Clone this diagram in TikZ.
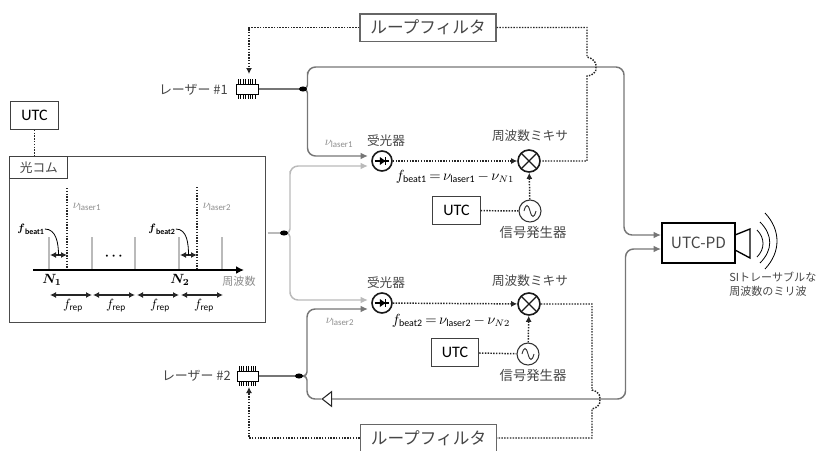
\documentclass[tikz,border=0pt]{standalone}
\usepackage{amsmath,amssymb}
\usepackage{fontspec}
\setmainfont{Carlito}
\newfontfamily\jp{Noto Sans CJK JP}
\usetikzlibrary{arrows.meta,calc,positioning,shapes.geometric}
\definecolor{txtgray}{RGB}{70,70,70}
\definecolor{fibergray}{RGB}{118,118,118}
\definecolor{combgray}{RGB}{186,186,186}
\definecolor{nugray}{RGB}{140,140,140}
\tikzset{
  plainbox/.style={draw=black!75,line width=.8pt,fill=white,inner sep=0pt},
  utcbox/.style={plainbox,minimum width=35.5pt,minimum height=20.5pt,font=\fontsize{12}{12}\selectfont},
  filterbox/.style={plainbox,draw=black!60,line width=1pt,minimum width=102pt,minimum height=20.5pt,font=\jp\fontsize{12.5}{12}\selectfont,text=txtgray},
  jplabel/.style={font=\jp\fontsize{9.5}{11}\selectfont,text=txtgray,inner sep=0pt},
  smalljp/.style={font=\jp\fontsize{8.3}{10.5}\selectfont,text=txtgray,inner sep=0pt,align=left},
  chipbox/.style={draw=black,line width=.7pt,fill=white,minimum width=16pt,minimum height=7.5pt,inner sep=0pt},
  detector/.style={circle,draw=black!90,line width=1.2pt,fill=white,minimum size=15pt,inner sep=0pt,
    path picture={
      \draw[black,line width=1pt] ($(path picture bounding box.center)+(-5.5pt,0)$) -- ($(path picture bounding box.center)+(5.5pt,0)$);
      \fill[black] ($(path picture bounding box.center)+(-1.6pt,3pt)$) -- ($(path picture bounding box.center)+(2.6pt,0)$) -- ($(path picture bounding box.center)+(-1.6pt,-3pt)$) -- cycle;
      \draw[black,line width=1pt] ($(path picture bounding box.center)+(2.8pt,3pt)$) -- ($(path picture bounding box.center)+(2.8pt,-3pt)$);
    }},
  mixer/.style={circle,draw=black!90,line width=1.2pt,fill=white,minimum size=16.5pt,inner sep=0pt,
    path picture={
      \draw[line width=1pt] (path picture bounding box.north west) -- (path picture bounding box.south east);
      \draw[line width=1pt] (path picture bounding box.north east) -- (path picture bounding box.south west);
    }},
  siggen/.style={circle,draw=black!80,line width=.8pt,fill=white,minimum size=16.5pt,inner sep=0pt,
    path picture={
      \draw[line width=.7pt] ($(path picture bounding box.center)+(-4.5pt,0)$) .. controls +(1.5pt,5.5pt) and +(-1.5pt,5.5pt) .. (path picture bounding box.center) .. controls +(1.5pt,-5.5pt) and +(-1.5pt,-5.5pt) .. ($(path picture bounding box.center)+(4.5pt,0)$);
    }},
  fiber/.style={draw=fibergray,line width=1.1pt},
  combfiber/.style={draw=combgray,line width=1.1pt},
  splitdot/.style={ellipse,fill=black,minimum width=6pt,minimum height=3.8pt,inner sep=0pt},
  elec/.style={draw=black!85,line width=1.1pt,densely dotted},
  fibertip/.style={-{Latex[length=5.5pt,width=5pt]}},
  dottip/.style={-{Latex[length=4.5pt,width=4.5pt]}},
  spacing/.style={{Latex[length=4.5pt,width=4.5pt]}-{Latex[length=4.5pt,width=4.5pt]},line width=.9pt,black!85},
  combline/.style={draw=combgray,line width=1.7pt},
}
\begin{document}
\begin{tikzpicture}[x=.75pt,y=-.75pt,>=Latex]
  \useasboundingbox (0,0) rectangle (817,450);

  % comb
  \node[utcbox] (utc0) at (34.5,115.5) {UTC};
  \node[draw=black!70,line width=.8pt,minimum width=191.5pt,minimum height=125pt,inner sep=0pt] (comb) at (137.5,239.5) {};
  \node[plainbox,minimum width=43.5pt,minimum height=17pt,anchor=north west,font=\jp\fontsize{9.5}{11}\selectfont,text=txtgray] (combname) at (comb.north west) {光コム};
  \draw[elec] (utc0) -- (utc0|-combname.north);

  \foreach \x in {49,92,135,179,222}
    \draw[combline] (\x,237) -- (\x,270);
  \draw[elec] (67,188) -- (67,270);
  \draw[elec] (197,187) -- (197,270);
  \coordinate (axisstart) at (33,270);
  \coordinate (axisend) at (244,270);
  \draw[line width=1.6pt,-{Latex[length=6pt,width=6pt]}] (axisstart) -- (axisend);

  \node[text=nugray,font=\fontsize{9.5}{11}\selectfont] (nuone) at (87,207) {$\nu_{\text{laser1}}$};
  \node[text=nugray,font=\fontsize{9.5}{11}\selectfont] (nutwo) at (217,207) {$\nu_{\text{laser2}}$};
  \node[font=\fontsize{8.5}{10}\selectfont,inner sep=0pt] (beatone) at (31,229) {$\boldsymbol{f}_{\textbf{beat1}}$};
  \node[font=\fontsize{8.5}{10}\selectfont,inner sep=0pt] (beattwo) at (162,229) {$\boldsymbol{f}_{\textbf{beat2}}$};
  \coordinate (gapa) at (50,255);
  \coordinate (gapb) at (67,255);
  \coordinate (gapc) at (180,255);
  \coordinate (gapd) at (197,255);
  \draw[spacing] (gapa) -- (gapb);
  \draw[spacing] (gapc) -- (gapd);
  \draw[line width=.6pt] (beatone.east) to[out=0,in=90] ($(gapa)!.5!(gapb)$);
  \draw[line width=.6pt] (beattwo.east) to[out=0,in=90] ($(gapc)!.5!(gapd)$);
  \node[font=\bfseries] (dots) at (115,256) {$\boldsymbol{\cdots}$};
  \node[font=\fontsize{10}{12}\selectfont] (nn1) at (52,280) {$\boldsymbol{N_1}$};
  \node[font=\fontsize{10}{12}\selectfont] (nn2) at (180,280) {$\boldsymbol{N_2}$};
  \node[smalljp,text=nugray] (axislabel) at (239,281) {周波数};
  \foreach \i/\x in {1/50,2/93,3/137,4/181}{
    \coordinate (repa\i) at (\x,295);
    \coordinate (repb\i) at (\x+42,295);
    \draw[spacing] (repa\i) -- (repb\i);
    \node[font=\fontsize{10}{12}\selectfont] (rep\i) at (\x+23,306) {$f_{\text{rep}}$};
  }

  % lasers
  \node[chipbox] (laserone) at (247.5,89) {};
  \node[chipbox] (lasertwo) at (248,376) {};
  \foreach \n in {laserone,lasertwo}
    \foreach \k in {1,...,8}{
      \draw[line width=.35pt] ($(\n.north west)+(\k*1.8pt-.4pt,0)$) -- ++(0,3.6pt);
      \draw[line width=.35pt] ($(\n.south west)+(\k*1.8pt-.4pt,0)$) -- ++(0,-3.6pt);
    }
  \node[jplabel,font=\jp\fontsize{9.7}{11}\selectfont,anchor=east] (nameone) at (228,90) {レーザー \#1};
  \node[jplabel,font=\jp\fontsize{9.7}{11}\selectfont,anchor=east] (nametwo) at (231,376) {レーザー \#2};

  % receivers and mixers
  \node[detector] (detone) at (382,161) {};
  \node[detector] (dettwo) at (382,303) {};
  \node[mixer] (mixone) at (529,161) {};
  \node[mixer] (mixtwo) at (529,304) {};
  \node[siggen] (genone) at (530,211) {};
  \node[siggen] (gentwo) at (528,354) {};
  \node[utcbox] (utcone) at (456.5,210.5) {UTC};
  \node[utcbox] (utctwo) at (455,352.5) {UTC};
  \node[jplabel] at (386,141) (rxone) {受光器};
  \node[jplabel] at (386,283) (rxtwo) {受光器};
  \node[jplabel] at (530,136) (mixnameone) {周波数ミキサ};
  \node[jplabel] at (530,281) (mixnametwo) {周波数ミキサ};
  \node[jplabel,font=\jp\fontsize{10}{11}\selectfont] at (533,232) (gennameone) {信号発生器};
  \node[jplabel,font=\jp\fontsize{10}{11}\selectfont] at (533,375) (gennametwo) {信号発生器};
  \node[font=\fontsize{10.6}{12}\selectfont,inner sep=0pt] (eqone) at (455,177) {$f_{\text{beat1}}\,{=}\,\nu_{\text{laser1}}\,{-}\,\nu_{N1}$};
  \node[font=\fontsize{10.6}{12}\selectfont,inner sep=0pt] (eqtwo) at (451,321) {$f_{\text{beat2}}\,{=}\,\nu_{\text{laser2}}\,{-}\,\nu_{N2}$};
  \node[text=nugray,font=\fontsize{9.5}{11}\selectfont] (labone) at (339,144) {$\nu_{\text{laser1}}$};
  \node[text=nugray,font=\fontsize{9.5}{11}\selectfont] (labtwo) at (340,322) {$\nu_{\text{laser2}}$};

  \draw[elec,dottip] (detone) -- (mixone);
  \draw[elec,dottip] (dettwo) -- (mixtwo);
  \draw[elec,dottip] (genone) -- (mixone);
  \draw[elec,dottip] (gentwo) -- (mixtwo);
  \draw[elec] (utcone) -- (genone);
  \draw[elec] (utctwo) -- (gentwo);

  % UTC-PD and horn
  \node[draw=black,line width=1.2pt,fill=white,minimum width=55pt,minimum height=30pt,inner sep=0pt,font=\jp\fontsize{11.6}{12}\selectfont,text=txtgray] (pd) at (698.5,243) {UTC-PD};
  \coordinate (hornt) at (735,235);
  \coordinate (hornb) at (735,250);
  \draw[line width=1pt] (hornt) -- (750,229) -- (750,258) -- (hornb);
  \draw[line width=.6pt] (757,230) .. controls (765,238) and (765,249) .. (757,257);
  \draw[line width=.6pt] (760,222) .. controls (773,235) and (773,250) .. (760,263);
  \draw[line width=.6pt] (765,213) .. controls (781,230) and (781,252) .. (765,269);
  \node[smalljp,anchor=north west] (mmw) at (729,272) {SIトレーサブルな\\周波数のミリ波};

  % optical paths
  \coordinate (splitc) at (284,233);
  \coordinate (splita) at (303,89);
  \coordinate (splitb) at (299,376);
  \draw[combfiber] (comb.east|-splitc) ++(2,0) -- (splitc);
  \draw[combfiber,fibertip,rounded corners=3pt] (splitc) -| (290,175) [rounded corners=6pt] |- (368,166);
  \draw[combfiber,fibertip,rounded corners=3pt] (splitc) -| (290,290) [rounded corners=6pt] |- (368,300);
  \draw[fiber] (laserone) -- (splita);
  \draw[fiber] (lasertwo) -- (splitb);
  \draw[fiber,fibertip,rounded corners=3pt] (splita) -| (307.5,76) [rounded corners=6pt] -- (307.5,67) -- (624,67) -- (624,235) -- (pd.west|-0,235);
  \draw[fiber,fibertip,rounded corners=3pt] (splita) -| (307.5,100) [rounded corners=6pt] |- (368,156);
  \draw[fiber,fibertip,rounded corners=3pt] (splitb) -| (307,365) [rounded corners=6pt] |- (368,309);
  \node[isosceles triangle,isosceles triangle apex angle=76,shape border rotate=180,draw=black!85,line width=.8pt,fill=white,inner sep=0pt,minimum height=7pt] (iso) at (328,399) {};
  \draw[fiber,rounded corners=3pt] (splitb) -| (307,387) [rounded corners=6pt] |- (iso.apex);
  \draw[fiber,fibertip,rounded corners=6pt] (iso.east) -- (625.5,399) -- (625.5,249) -- (pd.west|-0,249);
  \node[splitdot] (dotc) at (splitc) {};
  \node[splitdot] (dota) at (splita) {};
  \node[splitdot] (dotb) at (splitb) {};

  % loop filters
  \node[filterbox] (filterone) at (428,27.5) {ループフィルタ};
  \node[filterbox,minimum height=21pt,anchor=north] (filtertwo) at (428.5,424) {ループフィルタ};
  \coordinate (tipone) at (249,74);
  \coordinate (tiptwo) at (249,387);
  \draw[elec,dottip] (filterone.west) -| (tipone);
  \draw[elec,dottip] (filtertwo.west|-0,438) -| (tiptwo);
  \draw[elec] (filterone.east) -| (587,57) .. controls (592,58) and (597,62) .. (596,67) .. controls (597,72) and (592,76) .. (587,76) |- (mixone.east);
  \draw[elec] (mixtwo.east) -| (592,390) .. controls (597,391) and (601,395) .. (600,399) .. controls (601,404) and (597,408) .. (592,409) |- (filtertwo.east|-0,438);
\end{tikzpicture}
\end{document}
